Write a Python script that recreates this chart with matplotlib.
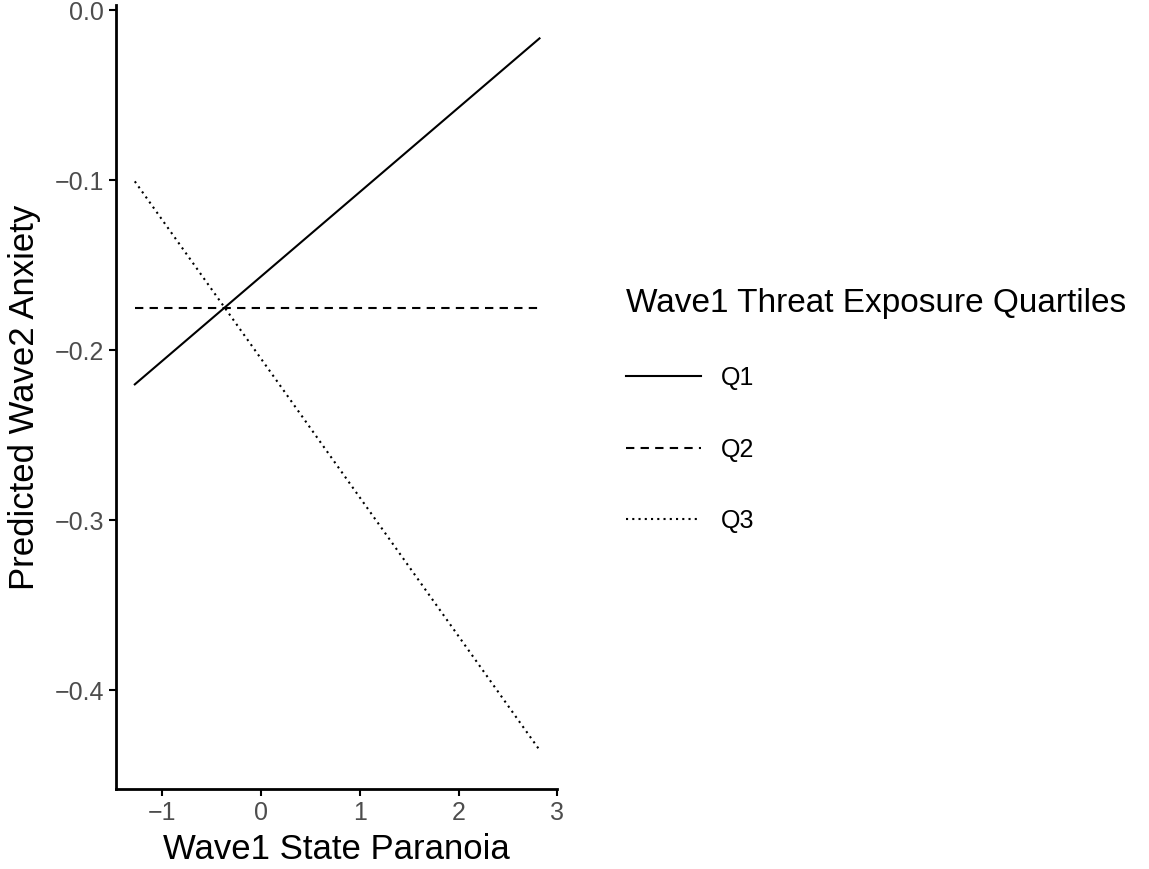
import matplotlib
matplotlib.use("Agg")
import matplotlib.pyplot as plt
import numpy as np

plt.rcParams['font.family'] = ['Liberation Sans', 'DejaVu Sans']

x_range = [-1.28, 2.82]
q1 = [-0.220, -0.0165]
q2 = [-0.175, -0.175]
q3 = [-0.1006, -0.435]
labels = ["Q1", "Q2", "Q3"]
styles = ["-", (0, (4, 3)), (0, (1, 2))]

fig = plt.figure(figsize=(11.49, 8.69), dpi=100)
ax = fig.add_axes([0.101, 0.092, 0.384, 0.902])
for ys, lab, ls in zip([q1, q2, q3], labels, styles):
    ax.plot(x_range, ys, color="black", lw=1.5, ls=ls, label=lab)

ax.set_xlim(-1.47, 2.98)
ax.set_ylim(-0.458, 0.003)
ax.set_xticks([-1, 0, 1, 2, 3])
ax.set_xticklabels(["\u22121", "0", "1", "2", "3"])
ax.set_yticks([0, -0.1, -0.2, -0.3, -0.4])
ax.set_yticklabels(["0.0", "\u22120.1", "\u22120.2", "\u22120.3", "\u22120.4"])
for s in ["top", "right"]:
    ax.spines[s].set_visible(False)
for s in ["left", "bottom"]:
    ax.spines[s].set_linewidth(2)
ax.tick_params(labelsize=18, labelcolor="#4d4d4d", width=1.5, length=5)
ax.set_xlabel("Wave1 State Paranoia", fontsize=25, labelpad=6)
ax.set_ylabel("Predicted Wave2 Anxiety", fontsize=25, labelpad=10)

leg = fig.legend(loc="upper left", bbox_to_anchor=(0.525, 0.695), frameon=False,
                 title="Wave1 Threat Exposure Quartiles", title_fontsize=24,
                 fontsize=18, handlelength=3, labelspacing=1.9, alignment="left")
fig.savefig("out.png", dpi=100)
